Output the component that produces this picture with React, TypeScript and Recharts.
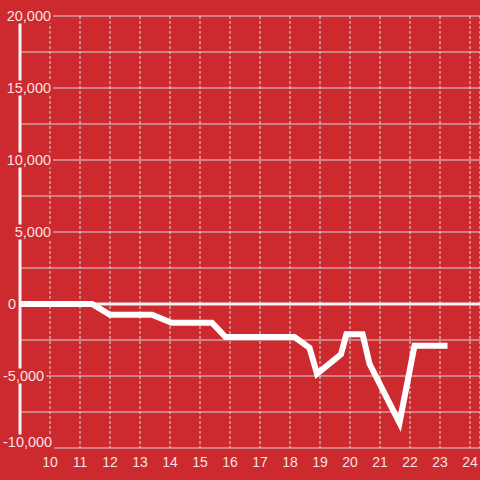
import { LineChart, Line, XAxis, YAxis, CartesianGrid, ReferenceLine } from 'recharts';

const BG = '#cd2a2f';

// hour of day and running balance
const hours = [9, 11.4, 12.0, 13.4, 14.05, 15.4, 15.85, 18.15, 18.65, 18.9, 19.7, 19.88, 20.42, 20.65, 21.65, 22.15, 23.25];
const balance = [0, 0, -750, -750, -1300, -1300, -2300, -2300, -3050, -4850, -3500, -2100, -2100, -4150, -8250, -2900, -2900];

const hourTicks = [10, 11, 12, 13, 14, 15, 16, 17, 18, 19, 20, 21, 22, 23, 24];
const valueTicks = [-10000, -7500, -5000, -2500, 0, 2500, 5000, 7500, 10000, 12500, 15000, 17500, 20000];

const data = hours.map((h, i) => ({ h, v: balance[i] }));

const textWidth = (s: string, fs: number) => {
    let w = 0;
    for (const c of s) w += c === ',' ? 0.278 : c === '-' ? 0.333 : 0.556;
    return w * fs;
};

const renderYTick = (props: any) => {
    const { y, payload, index } = props;
    const v = payload.value as number;
    if (v % 5000 !== 0) return <g key={`yt-${index}`} />;
    const fs = 14.5;
    const text = v.toLocaleString('en-US');
    const w = textWidth(text, fs);
    const x0 = v > 0 ? 51 - w : v === 0 ? 8 : 3;
    const cy = v === -10000 ? y - 6 : y;
    return (
        <g key={`yt-${index}`}>
            <rect x={x0 - 2} y={cy - 7.5} width={w + 4} height={15} fill={BG} />
            <text
                x={x0}
                y={cy}
                dy='0.36em'
                textAnchor='start'
                fontSize={fs}
                fontFamily='Liberation Sans, Arial, sans-serif'
                fill='#fff'
                fillOpacity={0.88}
            >
                {text}
            </text>
        </g>
    );
};

const renderXTick = (props: any) => {
    const { x, payload, index } = props;
    return (
        <text
            key={`xt-${index}`}
            x={x}
            y={467}
            textAnchor='middle'
            fontSize={14}
            fontFamily='Liberation Sans, Arial, sans-serif'
            fill='#fff'
            fillOpacity={0.88}
        >
            {payload.value}
        </text>
    );
};

const App = () => {
    return (
        <div style={{ position: 'fixed', left: 0, top: 0, width: 480, height: 480, background: BG }}>
            <LineChart width={480} height={480} data={data} margin={{ top: 16, right: 0, left: 0, bottom: 0 }}>
                <CartesianGrid horizontal={true} vertical={false} stroke='#d6d6d6' strokeWidth={1} />
                <CartesianGrid horizontal={false} vertical={true} stroke='#dcdcdc' strokeDasharray='3 2' strokeWidth={1} />
                <XAxis
                    dataKey='h'
                    type='number'
                    domain={[9, 24.3333]}
                    ticks={hourTicks}
                    allowDataOverflow
                    axisLine={false}
                    tickLine={false}
                    height={32}
                    tick={renderXTick}
                    interval={0}
                />
                <YAxis
                    type='number'
                    domain={[-10000, 20000]}
                    ticks={valueTicks}
                    width={20}
                    axisLine={{ stroke: '#f4f4f4', strokeWidth: 3 }}
                    tickLine={false}
                    tick={renderYTick}
                    interval={0}
                />
                <ReferenceLine y={0} stroke='#f4f4f4' strokeWidth={3} />
                <Line
                    type='linear'
                    dataKey='v'
                    stroke='#ffffff'
                    strokeWidth={6}
                    dot={false}
                    activeDot={false}
                    isAnimationActive={false}
                />
            </LineChart>
        </div>
    );
};

export default App;
